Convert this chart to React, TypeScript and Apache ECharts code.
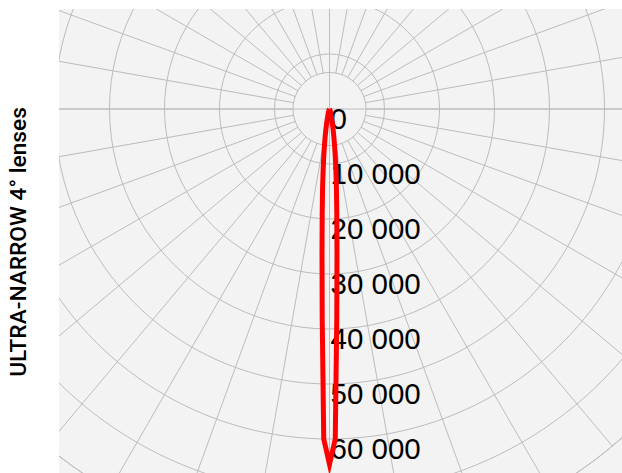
import React, { useEffect, useRef } from "react";
import * as echarts from "echarts";

// Beam angle (degrees, 0 = straight down) and luminous intensity (cd)
const angles = [-90, -60, -40, -30, -20, -15, -12, -10, -9, -8, -7, -6, -5, -4, -3, -2, -1, 0, 1, 2, 3, 4, 5, 6, 7, 8, 9, 10, 12, 15, 20, 30, 40, 60, 90];
const intensity = [0, 0, 50, 150, 400, 1000, 2200, 3800, 5000, 6500, 8500, 11000, 14500, 19000, 26000, 38000, 60000, 64600, 60000, 38000, 26000, 19000, 14500, 11000, 8500, 6500, 5000, 3800, 2200, 1000, 400, 150, 50, 0, 0];

const ringTicks = [0, 10000, 20000, 30000, 40000, 50000, 60000];
const title = "ULTRA-NARROW 4° lenses";

const fmt = (v: number) => String(v).replace(/\B(?=(\d{3})+(?!\d))/g, " ");

const GRID = "#bcbcbc";

export default function App() {
  const ref = useRef<HTMLDivElement>(null);
  useEffect(() => {
    const chart = echarts.init(ref.current!, null, { renderer: "svg" });
    const data = angles.map((a, i) => [intensity[i], (a + 360) % 360]);
    const center = [329.5, 109];
    chart.setOption({
      animation: false,
      backgroundColor: "#f3f3f3",
      polar: [
        { center, radius: [0, 440] },
        { center, radius: [36.5, 440] },
      ],
      angleAxis: [
        {
          polarIndex: 0,
          type: "value",
          min: 0,
          max: 360,
          interval: 90,
          startAngle: 270,
          clockwise: true,
          axisLine: { show: false },
          axisTick: { show: false },
          axisLabel: { show: false },
          splitLine: { show: true, lineStyle: { color: GRID, width: 1 } },
        },
        {
          polarIndex: 1,
          type: "value",
          min: 0,
          max: 360,
          interval: 10,
          startAngle: 270,
          clockwise: true,
          axisLine: { show: false },
          axisTick: { show: false },
          axisLabel: { show: false },
          splitLine: { show: true, lineStyle: { color: GRID, width: 1 } },
        },
      ],
      radiusAxis: [
        {
          polarIndex: 0,
          type: "value",
          min: 0,
          max: 80000,
          interval: 10000,
          axisLine: { show: false },
          axisTick: { show: false },
          axisLabel: {
            show: true,
            color: "#000",
            fontSize: 29.5,
            lineHeight: 18,
            fontFamily: "Liberation Sans, Arial, sans-serif",
            margin: 1,
            align: "left",
            verticalAlign: "top",
            formatter: (v: number) => (ringTicks.includes(v) ? fmt(v) : ""),
          },
          splitLine: { show: true, lineStyle: { color: GRID, width: 1 } },
        },
        {
          polarIndex: 1,
          type: "value",
          min: 0,
          max: 1,
          interval: 1,
          axisLine: { show: false },
          axisTick: { show: false },
          axisLabel: { show: false },
          splitLine: { show: true, lineStyle: { color: GRID, width: 1 } },
        },
      ],
      series: [
        {
          type: "line",
          coordinateSystem: "polar",
          polarIndex: 0,
          data,
          symbol: "none",
          smooth: false,
          lineStyle: { color: "#ff0000", width: 5, join: "miter", miterLimit: 20 },
          z: 5,
        },
      ],
      graphic: [
        { type: "rect", left: 0, top: 0, z: 100, shape: { width: 59, height: 473 }, style: { fill: "#fff" } },
        { type: "rect", left: 0, top: 0, z: 100, shape: { width: 622, height: 9 }, style: { fill: "#fff" } },
        {
          type: "text",
          x: 18.5,
          y: 242,
          rotation: Math.PI / 2,
          z: 101,
          style: {
            text: title,
            fill: "#000",
            font: "500 22.7px Roboto, 'Liberation Sans', Arial, sans-serif",
            textAlign: "center",
            textVerticalAlign: "middle",
          },
        },
      ],
    });
    return () => chart.dispose();
  }, []);
  return (
    <div
      ref={ref}
      style={{ position: "fixed", left: 0, top: 0, width: 622, height: 473 }}
    />
  );
}
